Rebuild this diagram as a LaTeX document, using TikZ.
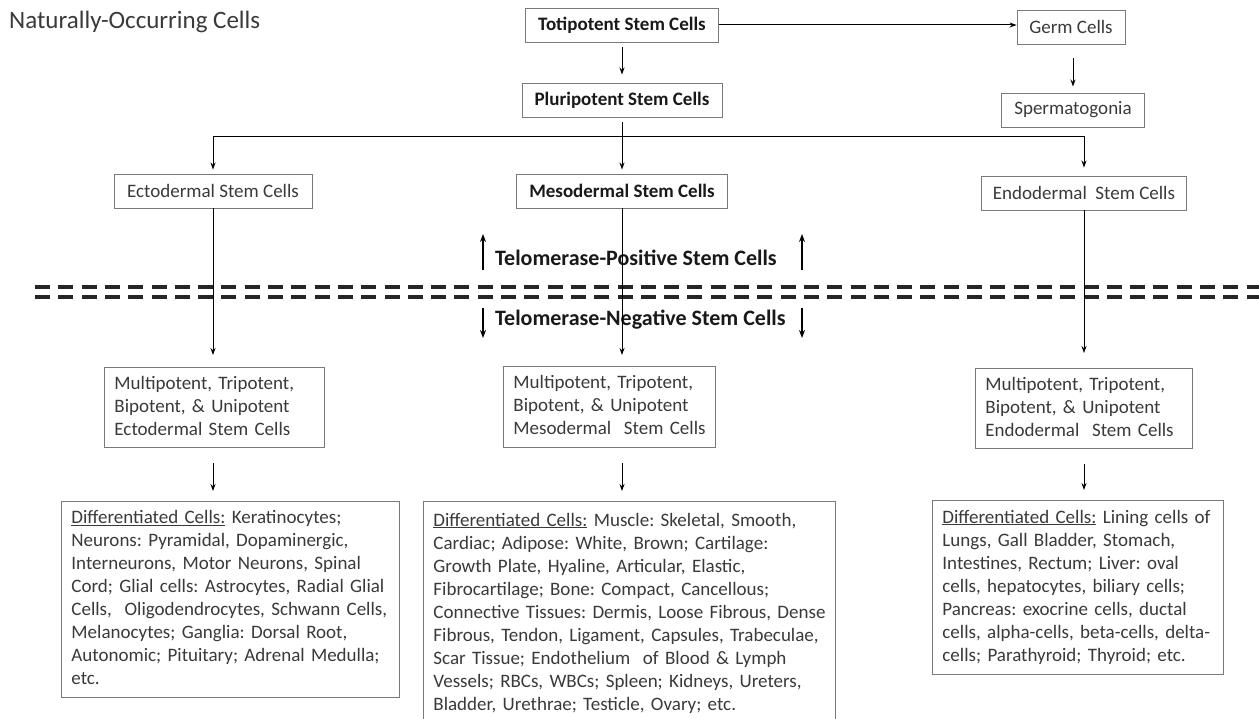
\documentclass[tikz,border=0pt]{standalone}
\usepackage{fontspec}
\setmainfont{Carlito}
\frenchspacing
\usetikzlibrary{arrows.meta}
\definecolor{NCtext}{HTML}{3A3A3A}
\definecolor{NCline}{HTML}{7A7A7A}
\newcommand{\NClines}[1]{\begin{tabular}{@{}l@{}}#1\end{tabular}}
\tikzset{NCbox/.style={draw=NCline,line width=0.9pt,text=NCtext,inner sep=0pt,minimum height=34pt,font=\fontsize{19}{23}\selectfont},
         NCbold/.style={NCbox,text=black!90,font=\fontsize{19}{23}\selectfont\bfseries},
         NClist/.style={draw=NCline,line width=0.9pt,text=NCtext,anchor=north west,align=left,inner xsep=10pt,inner ysep=5pt,font=\fontsize{19}{23}\selectfont},
         NCtel/.style={anchor=west,inner sep=0pt,text=black!90,font=\fontsize{22}{26}\selectfont\bfseries},
         NCarr/.style={-{Stealth[length=7pt,width=5pt]},line width=1pt},
         NCtarr/.style={-{Stealth[length=8pt,width=6pt]},line width=1.6pt},
         NCdash/.style={line width=4pt,dash pattern=on 15pt off 8.3pt,black!85}}

\begin{document}
\begin{tikzpicture}[x=1pt,y=-1pt]
    \useasboundingbox[fill=white] (0,0) rectangle (1259,719);
    \node[anchor=west,inner sep=0pt,text=NCtext,font=\fontsize{25}{30}\selectfont] (title) at (9,22) {Naturally-Occurring Cells};
    % top of the tree
    \node[NCbold,minimum width=193pt] (toti) at (622,25) {Totipotent Stem Cells};
    \node[NCbox,minimum width=108pt] (germ) at (1071,27) {Germ Cells};
    \node[NCbox,minimum width=143pt] (sperm) at (1073,110) {Spermatogonia};
    \node[NCbold,minimum width=200pt] (pluri) at (622,100) {Pluripotent Stem Cells};
    \node[NCbox,minimum width=198pt] (ecto) at (213,191) {Ectodermal Stem Cells};
    \node[NCbold,minimum width=211pt] (meso) at (622,191) {Mesodermal Stem Cells};
    \node[NCbox,minimum width=205pt] (endo) at (1084,193) {Endodermal\ \ Stem Cells};
    % telomerase border
    \foreach \y in {287,297} \draw[NCdash] (35,\y) -- (1259,\y);
    \node[NCtel] (telpos) at (495,258) {Telomerase-Positive Stem Cells};
    \node[NCtel] (telneg) at (495,320) {Telomerase-Negative Stem Cells};
    \foreach \x in {483,802} {\coordinate (pa\x) at (\x,270); \coordinate (pb\x) at (\x,234); \draw[NCtarr] (pa\x) -- (pb\x);
      \coordinate (na\x) at (\x,308); \coordinate (nb\x) at (\x,338); \draw[NCtarr] (na\x) -- (nb\x);}
    % restricted stem cells
    \node[NClist,text width=200pt,minimum height=80pt] (ectomulti) at (104,367) {\NClines{Multipotent, Tripotent,\\Bipotent, \& Unipotent\\Ectodermal Stem Cells}};
    \node[NClist,text width=192pt,minimum height=81pt] (mesomulti) at (503,366) {\NClines{Multipotent, Tripotent,\\Bipotent, \& Unipotent\\Mesodermal\ \ Stem Cells}};
    \node[NClist,text width=197pt,minimum height=80pt] (endomulti) at (975,368) {\NClines{Multipotent, Tripotent,\\Bipotent, \& Unipotent\\Endodermal\ \ Stem Cells}};
    % differentiated cells
    \node[NClist,text width=318pt,minimum height=196pt] (ectodiff) at (61,501) {\NClines{\underline{Differentiated Cells:} Keratinocytes;\\Neurons: Pyramidal, Dopaminergic,\\Interneurons, Motor Neurons, Spinal\\Cord; Glial cells: Astrocytes, Radial Glial\\Cells,\ \ Oligodendrocytes, Schwann Cells,\\Melanocytes; Ganglia: Dorsal Root,\\Autonomic; Pituitary; Adrenal Medulla;\\etc.}};
    \node[NClist,text width=392pt,minimum height=224pt] (mesodiff) at (423,501) {\NClines{\underline{Differentiated Cells:} Muscle: Skeletal, Smooth,\\Cardiac; Adipose: White, Brown; Cartilage:\\Growth Plate, Hyaline, Articular, Elastic,\\Fibrocartilage; Bone: Compact, Cancellous;\\Connective Tissues: Dermis, Loose Fibrous, Dense\\Fibrous, Tendon, Ligament, Capsules, Trabeculae,\\Scar Tissue; Endothelium\ \ of Blood \& Lymph\\Vessels; RBCs, WBCs; Spleen; Kidneys, Ureters,\\Bladder, Urethrae; Testicle, Ovary; etc.}};
    \node[NClist,text width=271pt,minimum height=174pt] (endodiff) at (932,500) {\NClines{\underline{Differentiated Cells:} Lining cells of\\Lungs, Gall Bladder, Stomach,\\Intestines, Rectum; Liver: oval\\cells, hepatocytes, biliary cells;\\Pancreas: exocrine cells, ductal\\cells, alpha-cells, beta-cells, delta-\\cells; Parathyroid; Thyroid; etc.}};
    % connectors
    \draw[NCarr] (toti.east) -- (toti.east -| germ.west);
    \draw[NCarr,shorten <=5pt,shorten >=8pt] (toti) -- (pluri);
    \draw[NCarr,shorten <=14pt,shorten >=6pt] (germ.south -| sperm.north) -- (sperm.north);
    \coordinate (split) at (622,137);
    \draw[NCarr,shorten <=5pt,shorten >=4pt] (pluri) -- (meso);
    \draw[NCarr,shorten >=4pt] (split) -| (ecto.north);
    \draw[NCarr,shorten >=8pt] (split) -| (endo.north);
    \foreach \n/\s in {ecto/12,meso/11,endo/15} {
      \draw[NCarr,shorten >=\s pt] (\n) -- (\n |- \n multi.north);
      \draw[NCarr,shorten <=15pt,shorten >=10pt] (\n multi.south -| \n) -- (\n diff.north -| \n);}
  \end{tikzpicture}
\end{document}
